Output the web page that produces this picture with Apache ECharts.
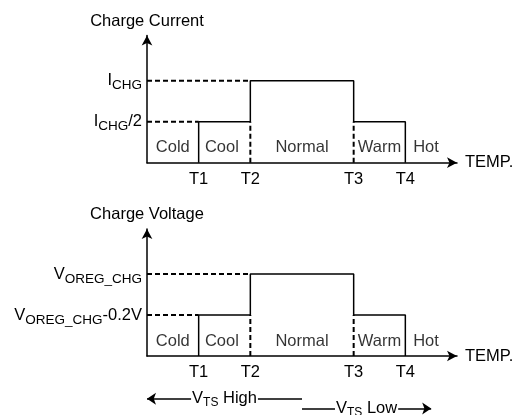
<!DOCTYPE html>
<html>
<head>
<meta charset="utf-8">
<script src="https://cdn.jsdelivr.net/npm/echarts@6/dist/echarts.min.js"></script>
<style>
html, body { margin: 0; padding: 0; background: #fff; }
#chart { width: 530px; height: 415px; }
</style>
</head>
<body>
<div id="chart"></div>
<script>
// temperature thresholds on the x axis
const tempTicks = ['T1', 'T2', 'T3', 'T4']
const tempX = [1, 2, 4, 5]
// zones between thresholds
const regionNames = ['Cold', 'Cool', 'Normal', 'Warm', 'Hot']
const regionX = [0.5, 1.45, 3, 4.5, 5.4]
// reduced / full level
const levels = [0.5, 1]
const currentLabels = [['I', 'CHG', '/2'], ['I', 'CHG', '']]
const voltageLabels = [['V', 'OREG_CHG', '-0.2V'], ['V', 'OREG_CHG', '']]
// V_TS ranges (in temperature units)
const vtsNames = ['High', 'Low']
const vtsFrom = [0, 3]
const vtsTo = [3, 5.5]

const FONT = "'Liberation Sans', Arial, sans-serif"
const BLACK = '#000'
const FS = 16.5
const SUB = 13.5
const X_MAX = 6
const Y_MAX = 1.55

const lo = levels[0]
const hi = levels[1]
const [t1, t2, t3, t4] = tempX

// solid outline of the step profile
const solidPath = [[t1, 0], [t1, lo], [t2, lo], [t2, hi], [t3, hi], [t3, lo], [t4, lo], [t4, 0]]
// dashed guide lines, null breaks between segments
const dashPath = [[0, lo], [t1, lo], null, [0, hi], [t2, hi], null, [t2, 0], [t2, lo], null, [t3, 0], [t3, lo]]

const rich = {
  m: { fontSize: FS, fontFamily: FONT, color: BLACK, lineHeight: 24 },
  s: { fontSize: SUB, fontFamily: FONT, color: BLACK, verticalAlign: 'bottom' },
}

function richLabel(parts) {
  let str = '{m|' + parts[0] + '}{s|' + parts[1] + '}'
  if (parts[2]) str += '{m|' + parts[2] + '}'
  return str
}

function axes(idx, yName, yLabels) {
  const x = {
    type: 'value', gridIndex: idx, min: 0, max: X_MAX,
    name: 'TEMP.', nameLocation: 'end', nameGap: 8,
    nameTextStyle: { color: BLACK, fontSize: FS, fontFamily: FONT, verticalAlign: 'middle' },
    axisLine: { lineStyle: { color: BLACK, width: 1.5 }, symbol: ['none', 'arrow'], symbolSize: [8, 10] },
    axisTick: { show: false },
    splitLine: { show: false },
    axisLabel: {
      customValues: tempX, margin: 8, color: BLACK, fontSize: FS, fontFamily: FONT,
      formatter: v => tempTicks[tempX.indexOf(v)],
    },
  }
  const y = {
    type: 'value', gridIndex: idx, min: 0, max: Y_MAX,
    name: yName, nameLocation: 'end', nameGap: 6,
    nameTextStyle: { color: BLACK, fontSize: FS, fontFamily: FONT, align: 'center' },
    axisLine: { show: true, lineStyle: { color: BLACK, width: 1.5 }, symbol: ['none', 'arrow'], symbolSize: [8, 10] },
    axisTick: { show: false },
    splitLine: { show: false },
    axisLabel: {
      customValues: levels, margin: 5, rich: rich,
      formatter: v => richLabel(yLabels[levels.indexOf(v)]),
    },
  }
  return { x, y }
}

function profileSeries(idx) {
  return [
    {
      type: 'line', xAxisIndex: idx, yAxisIndex: idx, data: solidPath,
      showSymbol: false, lineStyle: { color: BLACK, width: 1.5 }, z: 3,
    },
    {
      type: 'line', xAxisIndex: idx, yAxisIndex: idx, data: dashPath, connectNulls: false,
      showSymbol: false, lineStyle: { color: BLACK, width: 2, type: [5, 3] }, z: 4,
    },
    {
      type: 'scatter', xAxisIndex: idx, yAxisIndex: idx, symbolSize: 0,
      data: regionX.map((x, i) => ({ value: [x, 0.18], name: regionNames[i] })),
      label: { show: true, position: 'inside', formatter: '{b}', color: BLACK, fontSize: FS, fontFamily: FONT },
    },
  ]
}

const a0 = axes(0, 'Charge Current', currentLabels)
const a1 = axes(1, 'Charge Voltage', voltageLabels)

const vtsY = [-0.52, -0.64]
const vtsSeries = {
  type: 'lines', coordinateSystem: 'cartesian2d', xAxisIndex: 1, yAxisIndex: 1, clip: false,
  lineStyle: { color: BLACK, width: 1.5, opacity: 1 },
  symbolSize: 9,
  data: vtsNames.map((n, i) => ({
    name: n,
    coords: [[vtsFrom[i], vtsY[i]], [vtsTo[i], vtsY[i]]],
    symbol: i === 0 ? ['arrow', 'none'] : ['none', 'arrow'],
  })),
  label: {
    show: true, position: 'middle', distance: 0, verticalAlign: 'middle',
    backgroundColor: '#fff', padding: [0, 1],
    formatter: p => '{m|V}{s|TS}{m| ' + p.name + '}',
    rich: {
      m: { fontSize: FS, fontFamily: FONT, color: BLACK, lineHeight: 20 },
      s: { fontSize: 12, fontFamily: FONT, color: BLACK, verticalAlign: 'bottom' },
    },
  },
}

const chart = echarts.init(document.getElementById('chart'))
chart.setOption({
  animation: false,
  grid: [
    { left: 147, top: 35.6, width: 310, height: 127.1 },
    { left: 147, top: 228.9, width: 310, height: 127.1 },
  ],
  xAxis: [a0.x, a1.x],
  yAxis: [a0.y, a1.y],
  series: [...profileSeries(0), ...profileSeries(1), vtsSeries],
})
</script>
</body>
</html>
